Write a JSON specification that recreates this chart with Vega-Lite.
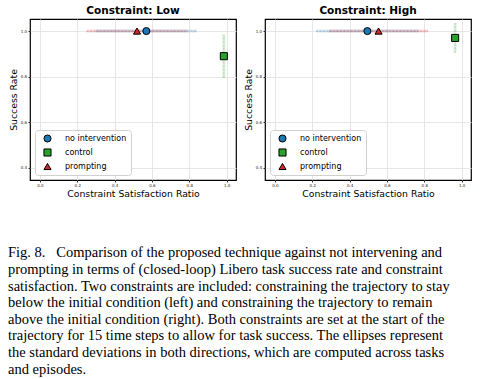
{
  "$schema": "https://vega.github.io/schema/vega-lite/v6.json",
  "background": "white",
  "padding": {"left": 8, "top": 4, "right": 5, "bottom": 3},
  "config": {
    "view": {"stroke": "black", "strokeWidth": 1.2},
    "axis": {
      "labelFontSize": 4, "labelFont": "DejaVu Sans", "labelColor": "#222", "labelOverlap": false, "labelFlush": false, "labelBound": false,
      "tickSize": 2, "tickColor": "black", "tickWidth": 0.8, "labelPadding": 1.5,
      "titleFont": "DejaVu Sans", "titleFontSize": 9.3, "titleFontWeight": "normal", "titleColor": "black",
      "grid": true, "gridColor": "#e3e3e3", "gridWidth": 0.9, "domain": false
    },
    "axisX": {"titlePadding": 2},
    "axisY": {"titlePadding": 1.5},
    "legend": {
      "orient": "bottom-left", "offset": 5, "fillColor": "white", "strokeColor": "#d0d0d0", "cornerRadius": 3,
      "padding": 4, "labelFontSize": 8, "labelFont": "DejaVu Sans", "labelColor": "black", "symbolSize": 50,
      "symbolStrokeColor": "black", "symbolStrokeWidth": 1, "rowPadding": 5, "clipHeight": 9, "labelOffset": 13, "symbolOffset": 4
    }
  },
  "datasets": {
    "pts": [
      {"constraint": "Low", "method": "no intervention", "csr": 0.57, "sr": 1.0},
      {"constraint": "Low", "method": "control", "csr": 0.985, "sr": 0.89},
      {"constraint": "Low", "method": "prompting", "csr": 0.52, "sr": 1.0},
      {"constraint": "High", "method": "no intervention", "csr": 0.495, "sr": 1.0},
      {"constraint": "High", "method": "control", "csr": 0.965, "sr": 0.97},
      {"constraint": "High", "method": "prompting", "csr": 0.555, "sr": 1.0}
    ],
    "err": [
      {"constraint": "Low", "method": "no intervention", "xlo": 0.30, "xhi": 0.84, "ylo": 1.0, "yhi": 1.0},
      {"constraint": "Low", "method": "prompting", "xlo": 0.25, "xhi": 0.79, "ylo": 1.0, "yhi": 1.0},
      {"constraint": "Low", "method": "control", "xlo": 0.985, "xhi": 0.985, "ylo": 0.795, "yhi": 0.985},
      {"constraint": "High", "method": "no intervention", "xlo": 0.22, "xhi": 0.77, "ylo": 1.0, "yhi": 1.0},
      {"constraint": "High", "method": "prompting", "xlo": 0.29, "xhi": 0.82, "ylo": 1.0, "yhi": 1.0},
      {"constraint": "High", "method": "control", "xlo": 0.965, "xhi": 0.965, "ylo": 0.905, "yhi": 1.035}
    ]
  },
  "spacing": 7,
  "resolve": {
    "scale": {"color": "independent", "shape": "independent", "stroke": "independent"},
    "legend": {"color": "independent", "shape": "independent", "stroke": "independent"}
  },
  "hconcat": [
    {
      "width": 206, "height": 161,
      "title": {"text": "Constraint: Low", "fontSize": 10.5, "font": "DejaVu Sans", "fontWeight": "bold", "color": "black", "offset": 3},
      "layer": [
        {
          "data": {"name": "err"},
          "transform": [{"filter": "datum.constraint === 'Low'"}],
          "mark": {"type": "rule", "strokeWidth": 3, "opacity": 0.16},
          "encoding": {
            "x": {"field": "xlo", "type": "quantitative", "scale": {"domain": [-0.053, 1.05], "nice": false, "zero": false}, "axis": {"values": [0, 0.2, 0.4, 0.6, 0.8, 1.0], "format": ".1f", "title": "Constraint Satisfaction Ratio"}},
            "x2": {"field": "xhi"},
            "y": {"field": "ylo", "type": "quantitative", "scale": {"domain": [0.347, 1.053], "nice": false, "zero": false}, "axis": {"values": [0.4, 0.5, 0.6, 0.7, 0.8, 0.9, 1.0], "format": ".1f", "title": "Success Rate"}},
            "y2": {"field": "yhi"},
            "stroke": {"field": "method", "type": "nominal", "scale": {"domain": ["control", "prompting", "no intervention"], "range": ["#2ca02c", "#d62728", "#1f77b4"]}, "legend": null}
          }
        },
        {
          "data": {"name": "err"},
          "transform": [{"filter": "datum.constraint === 'Low'"}],
          "mark": {"type": "rule", "strokeWidth": 1, "opacity": 0.3, "strokeDash": [2, 1.5]},
          "encoding": {
            "x": {"field": "xlo", "type": "quantitative"},
            "x2": {"field": "xhi"},
            "y": {"field": "ylo", "type": "quantitative"},
            "y2": {"field": "yhi"},
            "stroke": {"field": "method", "type": "nominal", "legend": null}
          }
        },
        {
          "data": {"name": "pts"},
          "transform": [{"filter": "datum.constraint === 'Low'"}],
          "mark": {"type": "point", "filled": true, "size": 50, "stroke": "black", "strokeWidth": 1, "opacity": 1},
          "encoding": {
            "x": {"field": "csr", "type": "quantitative"},
            "y": {"field": "sr", "type": "quantitative"},
            "color": {"field": "method", "type": "nominal", "scale": {"domain": ["no intervention", "control", "prompting"], "range": ["#1f77b4", "#2ca02c", "#d62728"]}, "legend": {"title": null}},
            "shape": {"field": "method", "type": "nominal", "scale": {"domain": ["no intervention", "control", "prompting"], "range": ["circle", "square", "triangle-up"]}}
          }
        }
      ]
    },
    {
      "width": 206, "height": 161,
      "title": {"text": "Constraint: High", "fontSize": 10.5, "font": "DejaVu Sans", "fontWeight": "bold", "color": "black", "offset": 3},
      "layer": [
        {
          "data": {"name": "err"},
          "transform": [{"filter": "datum.constraint === 'High'"}],
          "mark": {"type": "rule", "strokeWidth": 3, "opacity": 0.16},
          "encoding": {
            "x": {"field": "xlo", "type": "quantitative", "scale": {"domain": [-0.053, 1.05], "nice": false, "zero": false}, "axis": {"values": [0, 0.2, 0.4, 0.6, 0.8, 1.0], "format": ".1f", "title": "Constraint Satisfaction Ratio"}},
            "x2": {"field": "xhi"},
            "y": {"field": "ylo", "type": "quantitative", "scale": {"domain": [0.347, 1.053], "nice": false, "zero": false}, "axis": {"values": [0.4, 0.5, 0.6, 0.7, 0.8, 0.9, 1.0], "format": ".1f", "title": "Success Rate"}},
            "y2": {"field": "yhi"},
            "stroke": {"field": "method", "type": "nominal", "scale": {"domain": ["control", "prompting", "no intervention"], "range": ["#2ca02c", "#d62728", "#1f77b4"]}, "legend": null}
          }
        },
        {
          "data": {"name": "err"},
          "transform": [{"filter": "datum.constraint === 'High'"}],
          "mark": {"type": "rule", "strokeWidth": 1, "opacity": 0.3, "strokeDash": [2, 1.5]},
          "encoding": {
            "x": {"field": "xlo", "type": "quantitative"},
            "x2": {"field": "xhi"},
            "y": {"field": "ylo", "type": "quantitative"},
            "y2": {"field": "yhi"},
            "stroke": {"field": "method", "type": "nominal", "legend": null}
          }
        },
        {
          "data": {"name": "pts"},
          "transform": [{"filter": "datum.constraint === 'High'"}],
          "mark": {"type": "point", "filled": true, "size": 50, "stroke": "black", "strokeWidth": 1, "opacity": 1},
          "encoding": {
            "x": {"field": "csr", "type": "quantitative"},
            "y": {"field": "sr", "type": "quantitative"},
            "color": {"field": "method", "type": "nominal", "scale": {"domain": ["no intervention", "control", "prompting"], "range": ["#1f77b4", "#2ca02c", "#d62728"]}, "legend": {"title": null}},
            "shape": {"field": "method", "type": "nominal", "scale": {"domain": ["no intervention", "control", "prompting"], "range": ["circle", "square", "triangle-up"]}}
          }
        }
      ]
    }
  ],
  "title": {
    "text": [
      "Fig. 8.\u00a0\u00a0\u00a0Comparison of the proposed technique against not intervening and",
      "prompting in terms of (closed-loop) Libero task success rate and constraint",
      "satisfaction. Two constraints are included: constraining the trajectory to stay",
      "below the initial condition (left) and constraining the trajectory to remain",
      "above the initial condition (right). Both constraints are set at the start of the",
      "trajectory for 15 time steps to allow for task success. The ellipses represent",
      "the standard deviations in both directions, which are computed across tasks",
      "and episodes."
    ],
    "orient": "bottom", "anchor": "start", "frame": "group",
    "font": "Liberation Serif", "fontSize": 14.5, "fontWeight": "normal", "color": "black",
    "lineHeight": 16.6, "offset": 47, "dx": -22
  }
}
